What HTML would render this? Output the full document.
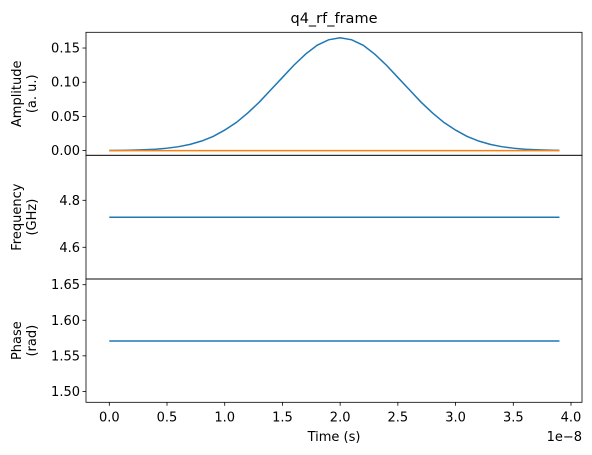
<!DOCTYPE html>
<html><head><meta charset="utf-8"><style>
body{margin:0;background:#fff}
svg{display:block;font-family:"DejaVu Sans","Liberation Sans",sans-serif}
</style></head><body>
<svg id="chart" width="592" height="455" viewBox="0 0 592 455">
<rect width="592" height="455" fill="#fff"/>
<text x="334" y="23" font-size="14.5" text-anchor="middle" fill="#000">q4_rf_frame</text>
<g id="g"></g>
</svg>
<script>
const times = [0,0.1,0.2,0.3,0.4,0.5,0.6,0.7,0.8,0.9,1.0,1.1,1.2,1.3,1.4,1.5,1.6,1.7,1.8,1.9,2.0,2.1,2.2,2.3,2.4,2.5,2.6,2.7,2.8,2.9,3.0,3.1,3.2,3.3,3.4,3.5,3.6,3.7,3.8,3.9];
const ampReal = [0.0002,0.0003,0.0006,0.0012,0.0020,0.0035,0.0057,0.0091,0.0140,0.0207,0.030,0.041,0.055,0.071,0.089,0.107,0.125,0.141,0.154,0.162,0.165,0.162,0.154,0.141,0.125,0.107,0.089,0.071,0.055,0.041,0.030,0.0207,0.0140,0.0091,0.0057,0.0035,0.0020,0.0012,0.0006,0.0003];
const ampImag = times.map(()=>0);
const freqVals = times.map(()=>4.728);
const phaseVals = times.map(()=>1.5708);
const xTicks = [0,0.5,1.0,1.5,2.0,2.5,3.0,3.5,4.0];
const ampTicks = [0,0.05,0.10,0.15];
const freqTicks = [4.6,4.8];
const phaseTicks = [1.50,1.55,1.60,1.65];

const NS="http://www.w3.org/2000/svg";
const g=document.getElementById('g');
const L=86,R=582;
const xs=v=>109.3+(v-0)*(571-109.3)/4.0;
function el(t,a){const e=document.createElementNS(NS,t);for(const k in a)e.setAttribute(k,a[k]);g.appendChild(e);return e;}
const panels=[
 {top:32.3,bot:155.3,y0:-0.0069,y1:0.173,ticks:ampTicks,fmt:v=>v.toFixed(2),label:["Amplitude","(a. u.)"],series:[[ampReal,'#1f77b4'],[ampImag,'#ff7f0e']],name:'amplitude'},
 {top:155.3,bot:279,y0:4.465,y1:4.9915,ticks:freqTicks,fmt:v=>v.toFixed(1),label:["Frequency","(GHz)"],series:[[freqVals,'#1f77b4']],name:'frequency'},
 {top:279,bot:402.3,y0:1.4847,y1:1.658,ticks:phaseTicks,fmt:v=>v.toFixed(2),label:["Phase","(rad)"],series:[[phaseVals,'#1f77b4']],name:'phase'}
];
panels.forEach((p,pi)=>{
 const ys=v=>p.bot-(v-p.y0)/(p.y1-p.y0)*(p.bot-p.top);
 p.series.forEach(([vals,c],si)=>{
  const pl=el('polyline',{points:vals.map((v,i)=>xs(times[i]).toFixed(2)+','+ys(v).toFixed(2)).join(' '),fill:'none',stroke:c,'stroke-width':1.5});
  
  
 });
 p.ticks.forEach(t=>{
  const y=ys(t);
  el('line',{x1:L-3.5,x2:L,y1:y,y2:y,stroke:'#000','stroke-width':0.8});
  const tx=el('text',{x:L-6,y:y+4.5,'font-size':13,'text-anchor':'end',fill:'#000'});
  tx.textContent=p.fmt(t);
  
  
 });
 const cy=(p.top+p.bot)/2;
 const lt=el('text',{transform:`translate(21,${cy}) rotate(-90)`,'font-size':13,'text-anchor':'middle',fill:'#000'});
 
 
 const s1=document.createElementNS(NS,'tspan');s1.setAttribute('x',0);s1.setAttribute('y',0);s1.textContent=p.label[0];lt.appendChild(s1);
 const s2=document.createElementNS(NS,'tspan');s2.setAttribute('x',0);s2.setAttribute('y',15);s2.textContent=p.label[1];lt.appendChild(s2);
 const fr=el('rect',{x:L,y:p.top,width:R-L,height:p.bot-p.top,fill:'none',stroke:'#000','stroke-width':0.8});
 
 
});
xTicks.forEach(t=>{
 const x=xs(t);
 el('line',{x1:x,x2:x,y1:402.3,y2:405.8,stroke:'#000','stroke-width':0.8});
 const tx=el('text',{x:x,y:421.5,'font-size':13,'text-anchor':'middle',fill:'#000'});
 tx.textContent=t.toFixed(1);
 
 
});
const xt=el('text',{x:334,y:441,'font-size':13,'text-anchor':'middle',fill:'#000'});
xt.textContent='Time (s)';


const ex=el('text',{x:582,y:441,'font-size':13,'text-anchor':'end',fill:'#000'});
ex.textContent='1e\u22128';


</script>
</body></html>
